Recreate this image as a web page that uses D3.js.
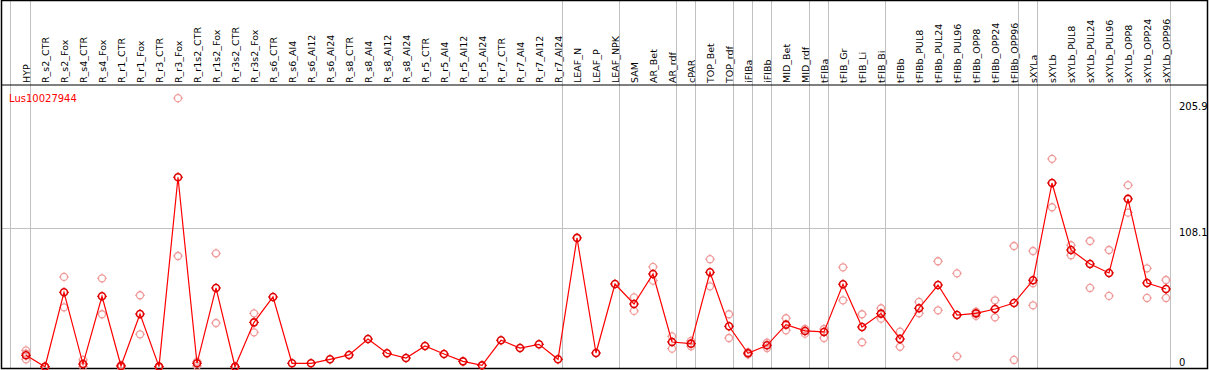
<!DOCTYPE html>
<html><head><meta charset="utf-8">
<script src="https://cdn.jsdelivr.net/npm/d3@7"></script>
<style>body{margin:0;background:#fff;}svg{display:block;}</style>
</head><body>
<script>
const categories = ["HYP","R_s2_CTR","R_s2_Fox","R_s4_CTR","R_s4_Fox","R_r1_CTR","R_r1_Fox","R_r3_CTR","R_r3_Fox","R_r1s2_CTR","R_r1s2_Fox","R_r3s2_CTR","R_r3s2_Fox","R_s6_CTR","R_s6_Al4","R_s6_Al12","R_s6_Al24","R_s8_CTR","R_s8_Al4","R_s8_Al12","R_s8_Al24","R_r5_CTR","R_r5_Al4","R_r5_Al12","R_r5_Al24","R_r7_CTR","R_r7_Al4","R_r7_Al12","R_r7_Al24","LEAF_N","LEAF_P","LEAF_NPK","SAM","AR_Bet","AR_rdf","cPAR","TOP_Bet","TOP_rdf","iFIBa","iFIBb","MID_Bet","MID_rdf","tFIBa","tFIB_Gr","tFIB_Li","tFIB_Bi","tFIBb","tFIBb_PUL8","tFIBb_PUL24","tFIBb_PUL96","tFIBb_OPP8","tFIBb_OPP24","tFIBb_OPP96","sXYLa","sXYLb","sXYLb_PUL8","sXYLb_PUL24","sXYLb_PUL96","sXYLb_OPP8","sXYLb_OPP24","sXYLb_OPP96"];
const means = [9.1,0.2,58.2,2.3,55.1,0.8,41.3,0.3,147.9,2.9,61.6,0.2,34.8,54.6,2.9,2.9,6.0,9.4,21.8,10.7,7.0,16.4,10.1,4.4,1.3,20.8,14.8,17.7,6.0,100.6,10.9,64.7,49.1,72.5,19.5,18.2,73.8,31.7,10.7,16.9,33.0,28.1,27.3,64.5,31.2,41.6,21.8,45.8,63.9,40.5,41.8,45.2,49.9,67.6,143.4,91.2,80.3,73.3,131.0,65.5,60.8];
const repA = [13,0.5,70.2,5.5,69.1,1.5,55.9,0.5,209.5,4.2,88.6,0,41.8,null,null,null,null,null,null,null,null,null,null,null,null,null,null,null,null,null,null,null,54.3,78.0,23.9,20.3,84.0,41.1,11.5,18.9,38.0,29.6,29.6,77.7,41.1,45.8,27.5,50.7,82.4,73.0,43.1,52.0,94.3,90.4,162.2,94.9,98.2,91.2,141.7,76.9,67.8];
const repB = [10.5,0,46.5,0.3,41.1,0,25.5,0,86.5,0.8,34.3,0.3,27.0,null,null,null,null,null,null,null,null,null,null,null,null,null,null,null,null,null,null,null,43.7,67.3,14.3,16.1,62.9,22.6,9.8,14.8,28.6,26.0,22.6,52.0,19.3,37.7,15.8,41.9,44.2,8.3,39.8,38.7,5.5,48.1,124.5,87.1,61.6,55.4,120.3,53.8,53.8];
const repC = [6,null,null,null,null,null,null,null,null,null,null,null,null,null,null,null,null,null,null,null,null,null,null,null,null,null,null,null,null,null,null,null,null,null,null,null,null,null,null,null,null,null,null,null,null,null,null,null,null,null,null,null,null,65.3,null,null,null,null,null,null,null];
const groupEnds = ["HYP","R_r7_Al24","LEAF_NPK","AR_rdf","cPAR","TOP_rdf","iFIBa","iFIBb","MID_rdf","tFIBa","tFIB_Bi","tFIBb_OPP96","sXYLa","sXYLb_OPP96"];
const yTicks = [205.9, 108.1, 0];
const gridValues = [108.1];
const title = "Lus10027944";

const W = 1209, H = 370;
const svg = d3.select("body").append("svg").attr("width", W).attr("height", H);
const x = d3.scalePoint().domain(categories).range([26, 1166]);
const y = d3.scaleLinear().domain([0, 205.9]).range([367, 102.8]);
const font = "DejaVu Sans, sans-serif";

// vertical group lines
svg.append("line").attr("x1", 10.5).attr("x2", 10.5).attr("y1", 0).attr("y2", 369).attr("stroke", "#c0c0c0");
svg.selectAll("line.vg").data(groupEnds).enter().append("line")
  .attr("x1", d => Math.floor(x(d) + 4.5) + 0.5).attr("x2", d => Math.floor(x(d) + 4.5) + 0.5)
  .attr("y1", 0).attr("y2", 369).attr("stroke", "#c0c0c0");
// horizontal grid
svg.selectAll("line.hg").data(gridValues).enter().append("line")
  .attr("x1", 1).attr("x2", Math.floor(x(categories[categories.length-1]) + 4.5) + 0.5)
  .attr("y1", d => Math.round(y(d)) + 0.5).attr("y2", d => Math.round(y(d)) + 0.5).attr("stroke", "#c0c0c0");

// borders
svg.append("rect").attr("x", 1.5).attr("y", 0.5).attr("width", 1206).attr("height", 368).attr("fill", "none").attr("stroke", "#000").attr("stroke-width", 1.5);
svg.append("line").attr("x1", 1).attr("x2", 1208).attr("y1", 85).attr("y2", 85).attr("stroke", "#000").attr("stroke-width", 1.2);

// column labels
svg.selectAll("text.cl").data(categories).enter().append("text")
  .attr("transform", d => `translate(${x(d) + 3.5},83) rotate(-90)`)
  .attr("font-family", font).attr("font-size", 9.5).attr("fill", "#000").text(d => d);

// y labels
svg.selectAll("text.yl").data(yTicks).enter().append("text")
  .attr("x", 1179).attr("y", d => d === 0 ? 366 : y(d) + 7.5)
  .attr("font-family", font).attr("font-size", 10).attr("fill", "#000").text(d => d);

// title
svg.append("text").attr("x", 9).attr("y", 101.5).attr("font-family", font).attr("font-size", 10)
  .attr("fill", "#ff0000").text(title);

function marker(g, cx, cy, color, sw) {
  g.append("circle").attr("cx", cx).attr("cy", cy).attr("r", 3.5).attr("fill", "none").attr("stroke", color).attr("stroke-width", sw);
  [[0,-1],[0,1],[-1,0],[1,0]].forEach(([dx,dy]) => {
    g.append("line").attr("x1", cx + dx*3.5).attr("y1", cy + dy*3.5).attr("x2", cx + dx*5).attr("y2", cy + dy*5)
      .attr("stroke", color).attr("stroke-width", 1);
  });
}

const gRep = svg.append("g");
[repA, repB, repC].forEach(arr => {
  arr.forEach((v, i) => { if (v !== null) marker(gRep, x(categories[i]), y(v), "#f09a9a", 1.3); });
});

svg.append("path").datum(means)
  .attr("d", d3.line().x((d, i) => x(categories[i])).y(d => y(d)))
  .attr("fill", "none").attr("stroke", "#ff0000").attr("stroke-width", 1.2);

const gMean = svg.append("g");
means.forEach((v, i) => marker(gMean, x(categories[i]), y(v), "#e00000", 1.6));
</script>
</body></html>
